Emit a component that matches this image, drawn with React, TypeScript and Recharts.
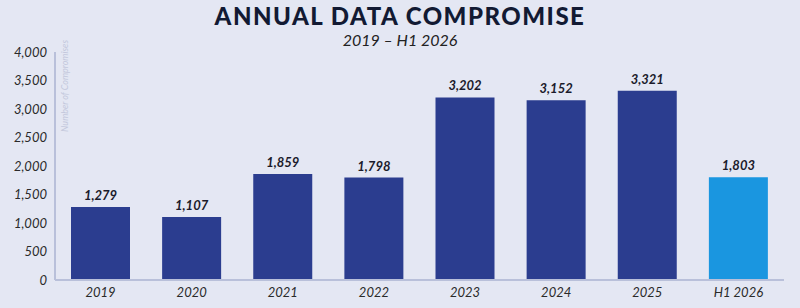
import { Bar, BarChart, XAxis, YAxis, LabelList, Cell } from "recharts"

const years = ["2019", "2020", "2021", "2022", "2023", "2024", "2025", "H1 2026"]
const compromises = [1279, 1107, 1859, 1798, 3202, 3152, 3321, 1803]
const yTicks = [0, 500, 1000, 1500, 2000, 2500, 3000, 3500, 4000]

const BG = "#e4e7f3"
const NAVY = "#2b3d8f"
const SKY = "#1a96e0"
const AXIS = "#b9c0da"

const data = years.map((year, i) => ({ year, count: compromises[i] }))

const fmt = (v: number) => v.toLocaleString("en-US")

export default function App() {
  return (
    <div
      style={{
        position: "absolute",
        left: 0,
        top: 0,
        width: 800,
        height: 308,
        background: BG,
        fontFamily: "Lato, sans-serif",
        overflow: "hidden",
      }}
    >
      {/* titles */}
      <div
        style={{
          position: "absolute",
          top: 3,
          width: 800,
          textAlign: "center",
          fontSize: 24,
          fontWeight: 900,
          letterSpacing: 1.5,
          color: "#121a33",
          lineHeight: "26px",
        }}
      >
        ANNUAL DATA COMPROMISE
      </div>
      <div
        style={{
          position: "absolute",
          top: 31,
          width: 800,
          textAlign: "center",
          fontSize: 16,
          fontStyle: "italic",
          color: "#222",
          lineHeight: "18px",
        }}
      >
        2019 – H1 2026
      </div>

      <BarChart
        width={800}
        height={308}
        data={data}
        margin={{ top: 52, right: 16, bottom: 0, left: 0 }}
        barCategoryGap={16}
      >
        <XAxis
          dataKey="year"
          height={28}
          tickLine={false}
          axisLine={{ stroke: AXIS, strokeWidth: 2 }}
          tick={{ fill: "#2a2a2a", fontSize: 13, fontStyle: "italic" }}
          interval={0}
        />
        <YAxis
          width={55}
          domain={[0, 4000]}
          ticks={yTicks}
          tickLine={false}
          axisLine={{ stroke: AXIS, strokeWidth: 2 }}
          tick={{ fill: "#2a2a2a", fontSize: 13, fontStyle: "italic" }}
          tickFormatter={fmt}
        />
        <Bar dataKey="count" isAnimationActive={false}>
          {data.map((d, i) => (
            <Cell key={d.year} fill={i === data.length - 1 ? SKY : NAVY} />
          ))}
          <LabelList
            dataKey="count"
            position="top"
            offset={7}
            formatter={(v: any) => fmt(Number(v))}
            style={{ fill: "#1b1b2b", fontSize: 13, fontWeight: 700, fontStyle: "italic" }}
          />
        </Bar>
      </BarChart>

      {/* axis title */}
      <svg style={{ position: "absolute", left: 0, top: 0 }} width={800} height={308}>
        <text
          transform="translate(68, 40) rotate(-90)"
          textAnchor="end"
          fontSize={9}
          fontStyle="italic"
          fill="#c3c8dc"
          fontFamily="Lato, sans-serif"
        >
          Number of Compromises
        </text>
      </svg>
    </div>
  )
}
